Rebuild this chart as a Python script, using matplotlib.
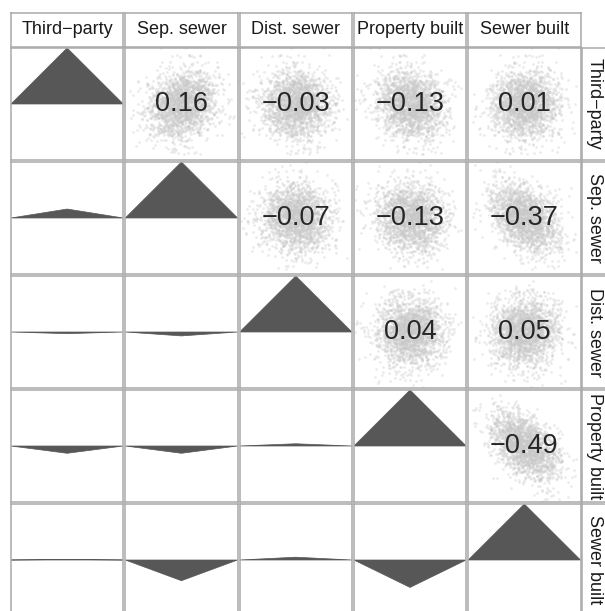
import matplotlib.pyplot as plt
import numpy as np

plt.rcParams['font.family'] = ['Liberation Sans', 'DejaVu Sans']

# variable names shown on the strips
names = ["Third\u2212party", "Sep. sewer", "Dist. sewer", "Property built", "Sewer built"]

# pairwise correlations (lower triangle, row by row)
r21 = 0.16
r31, r32 = -0.03, -0.07
r41, r42, r43 = -0.13, -0.13, 0.04
r51, r52, r53, r54 = 0.01, -0.37, 0.05, -0.49

corr = np.array([
    [1.0, r21, r31, r41, r51],
    [r21, 1.0, r32, r42, r52],
    [r31, r32, 1.0, r43, r53],
    [r41, r42, r43, 1.0, r54],
    [r51, r52, r53, r54, 1.0],
])

# simulated sample with that correlation structure, for the scatter clouds
n_obs = 2000
rng = np.random.default_rng(11)
sample = rng.standard_normal((n_obs, 5)) @ np.linalg.cholesky(corr).T

W, H = 605, 611
fig = plt.figure(figsize=(W / 100, H / 100), dpi=100)

left, top = 11, 48
pitch_x, pitch_y = 114.3, 114.0
pw, ph = 112.3, 112.0
strip_top, strip_h = 13, 34
edge = '#a9a9a9'


def px_axes(x, y, w, h):
    return fig.add_axes([x / W, 1 - (y + h) / H, w / W, h / H])


def frame(ax):
    ax.set_xticks([])
    ax.set_yticks([])
    for s in ax.spines.values():
        s.set_color(edge)
        s.set_linewidth(1.1)


k = len(names)
for i in range(k):
    for j in range(k):
        ax = px_axes(left + j * pitch_x, top + i * pitch_y, pw, ph)
        frame(ax)
        if j > i:
            # upper: scatter cloud with the correlation printed on top
            ax.scatter(sample[:, j], sample[:, i], s=4, color='#c8c8c8',
                       alpha=0.35, linewidths=0, rasterized=True)
            ax.set_xlim(-3.3, 3.3)
            ax.set_ylim(-3.3, 3.3)
            ax.text(0, 0, f"{corr[i, j]:.2f}".replace('-', '\u2212'),
                    ha='center', va='center', fontsize=19.5, color='#262626')
        else:
            # diagonal and lower: triangle whose height is the correlation
            r = corr[i, j]
            ax.fill([0, 0.5, 1], [0, r, 0], facecolor='#575757',
                    edgecolor='#575757', lw=0.5)
            ax.set_xlim(0, 1)
            ax.set_ylim(-1, 1)

# column strips
for j, name in enumerate(names):
    ax = px_axes(left + j * pitch_x, strip_top, pw, strip_h)
    frame(ax)
    ax.text(0.5, 0.5, name, ha='center', va='center', fontsize=13,
            color='#1a1a1a', transform=ax.transAxes)

# row strips on the right
for i, name in enumerate(names):
    ax = px_axes(left + k * pitch_x - 0.5, top + i * pitch_y, strip_h, ph)
    frame(ax)
    ax.text(0.36, 0.5, name, ha='center', va='center', fontsize=13,
            color='#1a1a1a', rotation=-90, transform=ax.transAxes)

fig.savefig('out.png', dpi=100)
